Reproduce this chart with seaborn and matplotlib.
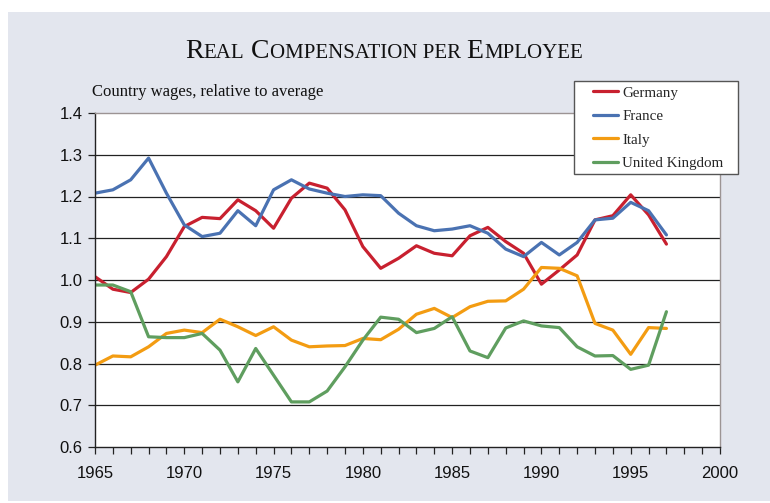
import numpy as np
import pandas as pd
import matplotlib
matplotlib.use("Agg")
import matplotlib.pyplot as plt
import seaborn as sns
from matplotlib.patches import Rectangle
from matplotlib.lines import Line2D
from matplotlib.offsetbox import TextArea, HPacker, AnchoredOffsetbox
from matplotlib.ticker import MultipleLocator

years = list(range(1965, 1998))
germany = [1.008, 0.978, 0.970, 1.002, 1.056, 1.128, 1.150, 1.147, 1.192, 1.166,
           1.124, 1.196, 1.232, 1.220, 1.168, 1.080, 1.028, 1.052, 1.082, 1.064,
           1.058, 1.106, 1.126, 1.092, 1.064, 0.990, 1.024, 1.060, 1.144, 1.154,
           1.204, 1.156, 1.086]
france = [1.208, 1.216, 1.240, 1.292, 1.208, 1.132, 1.104, 1.112, 1.166, 1.130,
          1.216, 1.240, 1.218, 1.208, 1.200, 1.204, 1.202, 1.160, 1.130, 1.118,
          1.122, 1.130, 1.112, 1.074, 1.056, 1.090, 1.060, 1.090, 1.144, 1.148,
          1.186, 1.166, 1.108]
italy = [0.796, 0.818, 0.816, 0.840, 0.872, 0.880, 0.874, 0.906, 0.888, 0.867,
         0.888, 0.856, 0.840, 0.842, 0.843, 0.860, 0.857, 0.882, 0.918, 0.932,
         0.910, 0.936, 0.949, 0.950, 0.978, 1.030, 1.028, 1.010, 0.896, 0.880,
         0.822, 0.886, 0.884]
uk = [0.988, 0.988, 0.972, 0.864, 0.862, 0.862, 0.872, 0.832, 0.756, 0.836,
      0.772, 0.708, 0.708, 0.734, 0.792, 0.856, 0.911, 0.906, 0.874, 0.884,
      0.912, 0.830, 0.814, 0.885, 0.902, 0.890, 0.886, 0.840, 0.818, 0.819,
      0.786, 0.796, 0.924]

countries = ["Germany", "France", "Italy", "United Kingdom"]
colors = ["#c8202f", "#4a72b2", "#f39c12", "#5f9e5f"]
x_ticks = [1965, 1970, 1975, 1980, 1985, 1990, 1995, 2000]
y_ticks = [0.6, 0.7, 0.8, 0.9, 1.0, 1.1, 1.2, 1.3, 1.4]

df = pd.concat([
    pd.DataFrame({"year": years, "value": v, "country": c})
    for c, v in zip(countries, [germany, france, italy, uk])
])

sns.set_theme(style="white")
plt.rcParams["font.family"] = ["Liberation Sans", "DejaVu Sans"]

W, H = 770, 503
fig = plt.figure(figsize=(W / 100, H / 100), dpi=100)
fig.patch.set_facecolor("white")
bg = "#e3e6ee"
fig.patches.append(Rectangle((8 / W, 2 / H), 1 - 8 / W, (501 - 12) / H,
                             transform=fig.transFigure, facecolor=bg,
                             edgecolor="none", zorder=-10))

ax = fig.add_axes([95 / W, 1 - 447 / H, (720 - 95) / W, (447 - 113) / H])
ax.set_facecolor("white")

LW = 2.3
sns.lineplot(data=df, x="year", y="value", hue="country", hue_order=countries,
             palette=colors, linewidth=LW, ax=ax, legend=False)

ax.set_xlim(1965, 2000)
ax.set_ylim(0.6, 1.4)
ax.set_xticks(x_ticks)
ax.set_yticks(y_ticks)
ax.set_yticklabels([f"{t:.1f}" for t in y_ticks])
ax.xaxis.set_minor_locator(MultipleLocator(1))
ax.set_xlabel("")
ax.set_ylabel("")
ax.grid(False)
for t in y_ticks[1:-1]:
    ax.axhline(t, color="#222222", linewidth=0.9, zorder=0.5)

ax.tick_params(axis="both", which="both", direction="out", colors="#222222",
               labelcolor="#111111", labelsize=12)
ax.tick_params(axis="x", which="both", length=5, width=0.9, pad=9, bottom=True)
ax.tick_params(axis="y", which="major", length=5, width=0.9, pad=4, left=True)

for s in ["left", "bottom"]:
    ax.spines[s].set_color("#222222")
    ax.spines[s].set_linewidth(1.0)
for s in ["top", "right"]:
    ax.spines[s].set_color("#9c9494")
    ax.spines[s].set_linewidth(1.0)

fig.text(92 / W, 1 - 92 / H, "Country wages, relative to average",
         fontfamily="Liberation Serif", fontsize=12, color="#111111",
         ha="left", va="center")

# Title in small caps
big, small = 20, 15
parts = [("R", big), ("EAL", small), (" C", big), ("OMPENSATION PER", small),
         (" E", big), ("MPLOYEE", small)]
children = [TextArea(t, textprops=dict(fontfamily="Liberation Serif",
                                       fontsize=s, color="#111111"))
            for t, s in parts]
box = HPacker(children=children, align="baseline", pad=0, sep=0)
anch = AnchoredOffsetbox(loc="center", child=box, pad=0, frameon=False,
                         bbox_to_anchor=(384 / W, 1 - 51 / H),
                         bbox_transform=fig.transFigure, borderpad=0)
fig.add_artist(anch)

# Legend frame
fig.patches.append(Rectangle((574 / W, 1 - 174 / H), (738 - 574) / W, (174 - 81) / H,
                             transform=fig.transFigure, facecolor="white",
                             edgecolor="#555555", linewidth=1.0, zorder=5))
handles = [Line2D([0], [0], color=c, linewidth=LW) for c in colors]
leg = fig.legend(handles, countries, loc="upper left",
                 bbox_to_anchor=(593 / W, 1 - 86 / H),
                 bbox_transform=fig.transFigure,
                 prop=dict(family="Liberation Serif", size=10.8),
                 frameon=False, borderpad=0,
                 handlelength=1.67, handletextpad=0.27, labelspacing=0.67,
                 borderaxespad=0)
leg.set_zorder(6)

fig.savefig("out.png", dpi=100)
